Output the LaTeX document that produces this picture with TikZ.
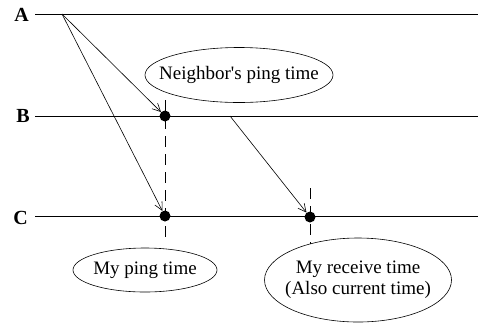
\documentclass[tikz,border=0pt]{standalone}
\usepackage{fontspec}
\setmainfont{Liberation Serif}
\usetikzlibrary{shapes.geometric,arrows.meta}
\begin{document}
\begin{tikzpicture}[x=1pt,y=-1pt,
  timeline/.style={line width=0.9pt},
  msg/.style={line width=0.6pt,-{Straight Barb[length=8pt,width=8pt,line width=0.6pt]}},
  event/.style={circle,fill=black,minimum size=11pt,inner sep=0pt},
  tick/.style={line width=0.9pt,dash pattern=on 11pt off 7pt},
  note/.style={ellipse,draw,line width=0.6pt,inner sep=0pt,font=\fontsize{19}{21}\selectfont},
  hostname/.style={anchor=east,inner sep=0pt,font=\fontsize{20}{22}\selectfont\bfseries}]
\useasboundingbox (0,0) rectangle (478,325);

% hosts and their time lines
\node[hostname] (A) at (29,15) {A};
\node[hostname] (B) at (30,116) {B};
\node[hostname] (C) at (28,218) {C};
\coordinate (Astart) at (35,14);
\coordinate (Bstart) at (35,116);
\coordinate (Cstart) at (35,216);
\coordinate (Aend) at (478,14);
\coordinate (Bend) at (478,116);
\coordinate (Cend) at (478,216);
\draw[timeline] (Astart) -- (Aend);
\draw[timeline] (Bstart) -- (Bend);
\draw[timeline] (Cstart) -- (Cend);

% dashed time markers
\coordinate (m1top) at (165,100);
\coordinate (m1bot) at (165,244);
\coordinate (m2top) at (310,188);
\coordinate (m2bot) at (310,244);
\draw[tick] (m1top) -- (m1bot);
\draw[tick] (m2top) -- (m2bot);

% events
\node[event] (pB) at (165,116) {};
\node[event] (pC) at (165,216) {};
\node[event] (rC) at (310,217) {};

% messages
\coordinate (send) at (62,14);
\coordinate (fwd) at (230,116);
\draw[msg] (send) -- (pB);
\draw[msg] (send) -- (pC);
\draw[msg] (fwd) -- (rC);

% annotations
\node[note,minimum width=188pt,minimum height=55pt] (n1) at (239,75)
  {\makebox[0pt]{Neighbor\textquotesingle s ping time}};
\node[note,minimum width=144pt,minimum height=44pt] (n2) at (145,270)
  {\makebox[0pt]{My ping time}};
\node[note,minimum width=187pt,minimum height=84pt] (n3) at (358,280)
  {\makebox[0pt]{\begin{tabular}{@{}c@{}}My receive time\\(Also current time)\end{tabular}}};
\end{tikzpicture}
\end{document}
